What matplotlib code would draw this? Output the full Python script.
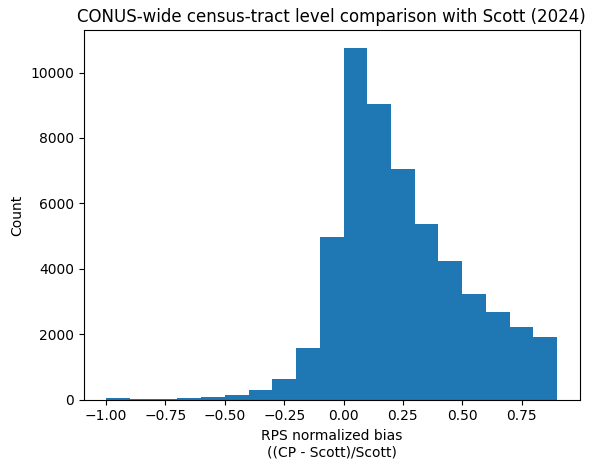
import numpy as np
import matplotlib.pyplot as plt

bin_edges = np.round(np.arange(-1.0, 0.95, 0.1), 2)
counts = [60, 20, 20, 50, 80, 150, 300, 630, 1590, 4970,
          10750, 9030, 7050, 5370, 4230, 3240, 2680, 2220, 1910]

fig, ax = plt.subplots(figsize=(5.97, 4.69), dpi=100)
ax.hist(bin_edges[:-1], bins=bin_edges, weights=counts)
ax.set_xlabel("RPS normalized bias\n((CP - Scott)/Scott)")
ax.set_ylabel("Count")
ax.set_title("CONUS-wide census-tract level comparison with Scott (2024)")
fig.subplots_adjust(left=0.14, right=0.971, top=0.935, bottom=0.148)
fig.savefig("out.png")
